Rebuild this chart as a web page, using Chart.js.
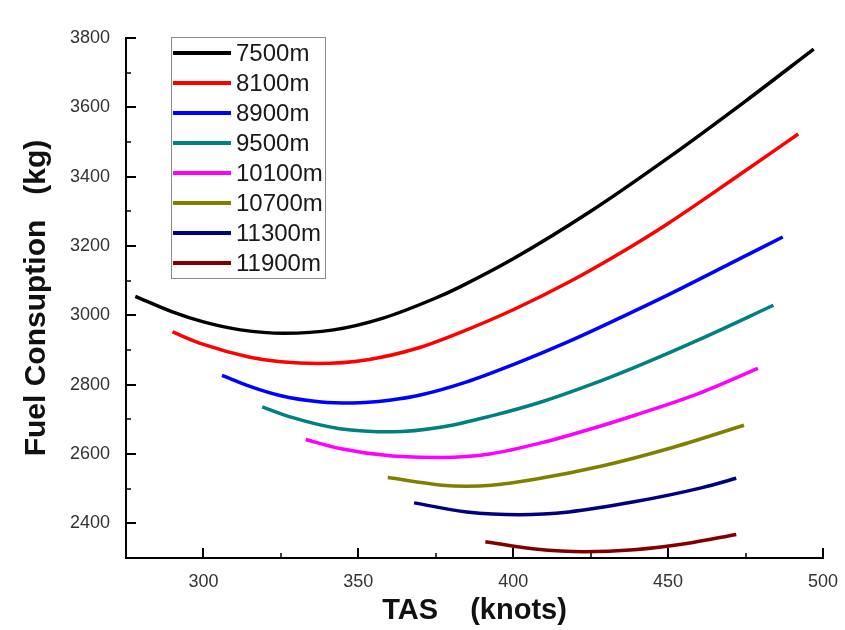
<!DOCTYPE html>
<html>
<head>
<meta charset="utf-8">
<title>Fuel Consuption vs TAS</title>
<script src="https://cdn.jsdelivr.net/npm/chart.js@4/dist/chart.umd.min.js"></script>
<style>
    body { margin: 0; background: #fff; }
    #wrap { width: 845px; height: 630px; }
</style>
</head>
<body>
<div id="wrap"><canvas id="fuelChart" width="845" height="630"></canvas></div>
<script>
// values (TAS in knots, fuel in kg)
const altitudes = ["7500m", "8100m", "8900m", "9500m", "10100m", "10700m", "11300m", "11900m"];

const tas7500 = [278, 290, 300, 312, 326, 342, 358, 375, 383, 400, 425, 450, 475, 497];
const fuel7500 = [3055, 3010, 2981, 2958, 2948, 2958, 2992, 3050, 3083, 3163, 3300, 3454, 3618, 3768];

const tas8100 = [290, 300, 315, 325, 337, 353, 369, 383, 400, 418, 435, 450, 472, 492];
const fuel8100 = [2952, 2916, 2879, 2866, 2861, 2872, 2905, 2951, 3016, 3096, 3182, 3265, 3399, 3523];

const tas8900 = [306, 315, 325, 338, 348, 360, 370, 385, 400, 418, 435, 450, 470, 487];
const fuel8900 = [2827, 2795, 2768, 2750, 2747, 2755, 2770, 2808, 2858, 2925, 2995, 3059, 3149, 3226];

const tas9500 = [319, 328, 344, 361, 377, 393, 409, 425, 440, 460, 484];
const fuel9500 = [2736, 2707, 2673, 2664, 2678, 2710, 2750, 2800, 2853, 2930, 3029];

const tas10100 = [333, 344, 361, 377, 393, 409, 425, 440, 460, 479];
const fuel10100 = [2642, 2616, 2594, 2590, 2601, 2632, 2672, 2714, 2775, 2847];

const tas10700 = [359.5, 377, 385, 393, 407, 429, 450, 474.5];
const fuel10700 = [2532, 2510, 2507, 2510, 2527, 2566, 2615, 2683];

const tas11300 = [368, 385, 402, 418, 439, 461, 472];
const fuel11300 = [2459, 2433, 2425, 2433, 2462, 2503, 2530];

const tas11900 = [391, 407, 423, 439, 456, 472];
const fuel11900 = [2347, 2326, 2318, 2324, 2342, 2368];

const tasTicks = [300, 350, 400, 450, 500];
const tasMinor = [325, 375, 425, 475];
const fuelTicks = [2400, 2600, 2800, 3000, 3200, 3400, 3600, 3800];
const fuelMinor = [2500, 2700, 2900, 3100, 3300, 3500, 3700];

const lineColors = ["#000000", "#ff0000", "#0000ff", "#008080", "#ff00ff", "#808000", "#000080", "#800000"];

const seriesTas = [tas7500, tas8100, tas8900, tas9500, tas10100, tas10700, tas11300, tas11900];
const seriesFuel = [fuel7500, fuel8100, fuel8900, fuel9500, fuel10100, fuel10700, fuel11300, fuel11900];

const FONT = 'Arial, "Liberation Sans", sans-serif';

const datasets = altitudes.map((name, i) => ({
    label: name,
    data: seriesTas[i].map((t, k) => ({ x: t, y: seriesFuel[i][k] })),
    borderColor: lineColors[i],
    backgroundColor: lineColors[i],
    borderWidth: 3.5,
    pointRadius: 0,
    cubicInterpolationMode: "monotone",
    fill: false
}));

// ticks point into the plot, like the original
const inwardTicks = {
    id: "inwardTicks",
    afterDraw(chart) {
        const { ctx, chartArea, scales } = chart;
        ctx.save();
        ctx.strokeStyle = "#000";
        const mark = (x1, y1, x2, y2, w) => {
            ctx.lineWidth = w;
            ctx.beginPath();
            ctx.moveTo(x1, y1);
            ctx.lineTo(x2, y2);
            ctx.stroke();
        };
        tasTicks.forEach(v => {
            const x = Math.round(scales.x.getPixelForValue(v));
            mark(x, chartArea.bottom, x, chartArea.bottom - 10, 2);
        });
        tasMinor.forEach(v => {
            const x = Math.round(scales.x.getPixelForValue(v));
            mark(x, chartArea.bottom, x, chartArea.bottom - 5, 1.5);
        });
        fuelTicks.forEach(v => {
            const y = Math.round(scales.y.getPixelForValue(v));
            mark(chartArea.left, y, chartArea.left + 10, y, 2);
        });
        fuelMinor.forEach(v => {
            const y = Math.round(scales.y.getPixelForValue(v));
            mark(chartArea.left, y, chartArea.left + 5, y, 1.5);
        });
        ctx.restore();
    }
};

// boxed legend sitting inside the plot, top left
const insideLegend = {
    id: "insideLegend",
    afterDraw(chart) {
        const ctx = chart.ctx;
        ctx.save();
        ctx.fillStyle = "#fff";
        ctx.fillRect(171, 37, 154, 241);
        ctx.strokeStyle = "#8c8c8c";
        ctx.lineWidth = 1;
        ctx.strokeRect(171.5, 37.5, 154, 241);
        chart.data.datasets.forEach((ds, i) => {
            const y = 53 + i * 30;
            ctx.strokeStyle = ds.borderColor;
            ctx.lineWidth = 4;
            ctx.beginPath();
            ctx.moveTo(173, y);
            ctx.lineTo(231, y);
            ctx.stroke();
            ctx.fillStyle = "#1a1a1a";
            ctx.font = "24px " + FONT;
            ctx.textBaseline = "middle";
            ctx.textAlign = "left";
            ctx.fillText(ds.label, 236, y + 1);
        });
        ctx.restore();
    }
};

const chartCtx = document.getElementById("fuelChart").getContext("2d");
new Chart(chartCtx, {
    type: "line",
    data: { datasets: datasets },
    options: {
        responsive: false,
        animation: false,
        layout: { padding: { left: 0, top: 38, right: 22, bottom: 0 } },
        plugins: {
            legend: { display: false },
            tooltip: { enabled: false }
        },
        scales: {
            x: {
                type: "linear",
                min: 275,
                max: 500,
                afterBuildTicks: scale => { scale.ticks = tasTicks.map(v => ({ value: v })); },
                afterFit: scale => { scale.height = 72; },
                grid: { display: false },
                border: { display: true, color: "#000", width: 2 },
                ticks: {
                    padding: 5,
                    color: "#333",
                    font: { family: FONT, size: 18 },
                    callback: v => String(v)
                },
                title: {
                    display: true,
                    text: "TAS    (knots)",
                    color: "#111",
                    font: { family: FONT, size: 29, weight: "bold" },
                    padding: { top: 0, bottom: 2 }
                }
            },
            y: {
                type: "linear",
                min: 2300,
                max: 3800,
                afterBuildTicks: scale => { scale.ticks = fuelTicks.map(v => ({ value: v })); },
                afterFit: scale => { scale.width = 126; },
                grid: { display: false },
                border: { display: true, color: "#000", width: 2 },
                ticks: {
                    padding: 8,
                    color: "#333",
                    font: { family: FONT, size: 18 },
                    callback: v => String(v)
                },
                title: {
                    display: true,
                    text: "Fuel Consuption   (kg)",
                    color: "#111",
                    font: { family: FONT, size: 30, weight: "bold" },
                    padding: { top: 19, bottom: 0 }
                }
            }
        }
    },
    plugins: [inwardTicks, insideLegend]
});
</script>
</body>
</html>
